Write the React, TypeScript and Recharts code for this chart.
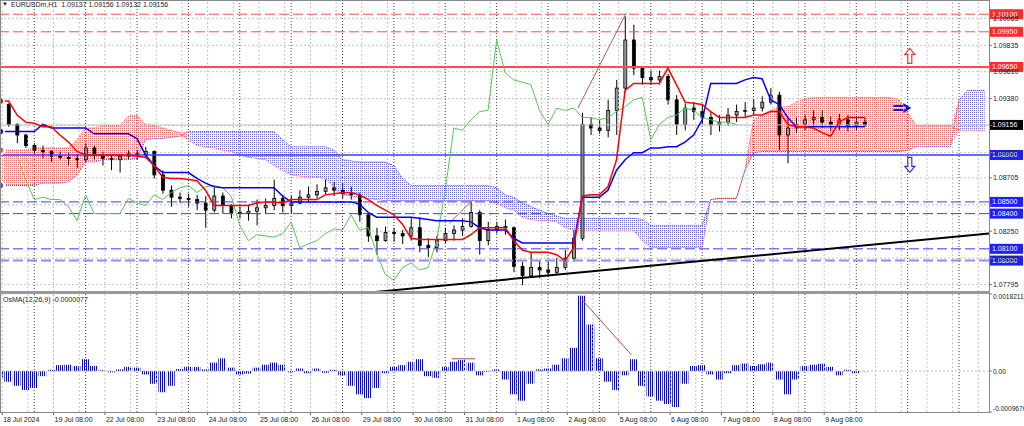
import React from 'react';
import {
  ComposedChart, Bar, Line, Area, XAxis, YAxis, CartesianGrid,
  ReferenceLine, ReferenceDot,
} from 'recharts';

// EURUSDm H1, 18 Jul - 9 Aug 2024, every 4 bars
const STEP = 4;
const firstOpen = 1.0937;

const highs = [
  1.0939, 1.0934, 1.0917, 1.0908, 1.0900, 1.0898, 1.0894, 1.0893, 1.0892, 1.0891,
  1.0900, 1.0898, 1.0893, 1.0890, 1.0891, 1.0894, 1.0894, 1.0897, 1.0894, 1.0877,
  1.0864, 1.0858, 1.0857, 1.0856, 1.0855, 1.0862, 1.0858, 1.0848, 1.0846, 1.0847,
  1.0852, 1.0853, 1.0869, 1.0856, 1.0855, 1.0860, 1.0863, 1.0865, 1.0869, 1.0867,
  1.0866, 1.0863, 1.0858, 1.0841, 1.0828, 1.0829, 1.0828, 1.0826, 1.0836, 1.0837,
  1.0819, 1.0821, 1.0828, 1.0830, 1.0836, 1.0850, 1.0843, 1.0833, 1.0833, 1.0835,
  1.0829, 1.0799, 1.0807, 1.0800, 1.0799, 1.0802, 1.0809, 1.0826, 1.0926, 1.0922,
  1.0920, 1.0937, 1.0954, 1.1008, 1.1001, 1.0966, 1.0962, 1.0962, 1.0959, 1.0941,
  1.0934, 1.0935, 1.0933, 1.0927, 1.0924, 1.0930, 1.0933, 1.0935, 1.0937, 1.0940,
  1.0947, 1.0944, 1.0922, 1.0922, 1.0924, 1.0928, 1.0928, 1.0923, 1.0925, 1.0924,
  1.0923, 1.0922,
];
const lows = [
  1.0928, 1.0914, 1.0900, 1.0896, 1.0891, 1.0887, 1.0884, 1.0886, 1.0881, 1.0879,
  1.0884, 1.0886, 1.0881, 1.0877, 1.0875, 1.0886, 1.0886, 1.0887, 1.0870, 1.0857,
  1.0846, 1.0849, 1.0846, 1.0843, 1.0828, 1.0841, 1.0840, 1.0836, 1.0836, 1.0834,
  1.0830, 1.0840, 1.0843, 1.0841, 1.0840, 1.0848, 1.0850, 1.0853, 1.0856, 1.0855,
  1.0853, 1.0852, 1.0833, 1.0816, 1.0805, 1.0816, 1.0816, 1.0814, 1.0817, 1.0807,
  1.0803, 1.0807, 1.0815, 1.0817, 1.0821, 1.0828, 1.0805, 1.0813, 1.0823, 1.0822,
  1.0790, 1.0779, 1.0786, 1.0785, 1.0786, 1.0788, 1.0792, 1.0799, 1.0817, 1.0907,
  1.0908, 1.0905, 1.0907, 1.0944, 1.0958, 1.0950, 1.0950, 1.0950, 1.0933, 1.0907,
  1.0911, 1.0920, 1.0916, 1.0907, 1.0910, 1.0915, 1.0918, 1.0922, 1.0924, 1.0927,
  1.0933, 1.0894, 1.0883, 1.0909, 1.0911, 1.0915, 1.0913, 1.0910, 1.0911, 1.0910,
  1.0911, 1.0914,
];
const closes = [
  1.0933, 1.0916, 1.0907, 1.0898, 1.0894, 1.0893, 1.0889, 1.0888, 1.0887, 1.0886,
  1.0896, 1.0890, 1.0887, 1.0886, 1.0889, 1.0891, 1.0890, 1.0893, 1.0873, 1.0860,
  1.0854, 1.0853, 1.0852, 1.0849, 1.0843, 1.0855, 1.0847, 1.0841, 1.0840, 1.0842,
  1.0845, 1.0847, 1.0853, 1.0847, 1.0849, 1.0854, 1.0856, 1.0859, 1.0862, 1.0860,
  1.0857, 1.0856, 1.0839, 1.0821, 1.0817, 1.0824, 1.0823, 1.0821, 1.0828, 1.0813,
  1.0811, 1.0817, 1.0823, 1.0826, 1.0829, 1.0841, 1.0817, 1.0826, 1.0829, 1.0828,
  1.0795, 1.0787, 1.0794, 1.0792, 1.0790, 1.0794, 1.0802, 1.0819, 1.0916, 1.0913,
  1.0911, 1.0928, 1.0947, 1.0988, 1.0964, 1.0956, 1.0954, 1.0957, 1.0937, 1.0916,
  1.0930, 1.0927, 1.0922, 1.0916, 1.0918, 1.0924, 1.0927, 1.0928, 1.0930, 1.0935,
  1.0941, 1.0907, 1.0913, 1.0916, 1.0920, 1.0922, 1.0918, 1.0916, 1.0920, 1.0915,
  1.0918, 1.09156,
];

// Ichimoku
const tenkan = [
  1.0936, 1.0936, 1.0924, 1.0918, 1.0917, 1.0914, 1.0914, 1.0907, 1.0901, 1.0893,
  1.0890, 1.0890, 1.0890, 1.0890, 1.0890, 1.0890, 1.0889, 1.0888, 1.0881, 1.0871,
  1.0870, 1.0870, 1.0869, 1.0868, 1.0860, 1.0847, 1.0847, 1.0847, 1.0847, 1.0847,
  1.0849, 1.0850, 1.0850, 1.0849, 1.0852, 1.0852, 1.0852, 1.0852, 1.0856, 1.0857,
  1.0858, 1.0858, 1.0856, 1.0852, 1.0847, 1.0843, 1.0839, 1.0831, 1.0819, 1.0818,
  1.0818, 1.0818, 1.0818, 1.0818, 1.0818, 1.0822, 1.0828, 1.0828, 1.0828, 1.0828,
  1.0817, 1.0809, 1.0807, 1.0807, 1.0807, 1.0805, 1.0800, 1.0811, 1.0855, 1.0856,
  1.0856, 1.0863, 1.0886, 1.0945, 1.0951, 1.0951, 1.0951, 1.0951, 1.0964, 1.0950,
  1.0935, 1.0934, 1.0933, 1.0927, 1.0922, 1.0922, 1.0922, 1.0922, 1.0924, 1.0924,
  1.0927, 1.0927, 1.0916, 1.0914, 1.0914, 1.0913, 1.0909, 1.0906, 1.0918, 1.0922,
  1.0922, 1.0922,
];
const kijun = [
  1.0910, 1.0910, 1.0910, 1.0910, 1.0910, 1.0916, 1.0913, 1.0913, 1.0913, 1.0913,
  1.0913, 1.0908, 1.0908, 1.0908, 1.0908, 1.0908, 1.0904, 1.0890, 1.0881, 1.0875,
  1.0875, 1.0875, 1.0875, 1.0870, 1.0866, 1.0863, 1.0862, 1.0862, 1.0862, 1.0862,
  1.0862, 1.0862, 1.0862, 1.0855, 1.0850, 1.0850, 1.0850, 1.0850, 1.0850, 1.0850,
  1.0850, 1.0850, 1.0848, 1.0841, 1.0837, 1.0837, 1.0837, 1.0837, 1.0837, 1.0836,
  1.0835, 1.0834, 1.0834, 1.0834, 1.0834, 1.0833, 1.0828, 1.0826, 1.0826, 1.0826,
  1.0819, 1.0815, 1.0815, 1.0815, 1.0815, 1.0815, 1.0815, 1.0815, 1.0854, 1.0854,
  1.0854, 1.0860, 1.0877, 1.0886, 1.0892, 1.0892, 1.0896, 1.0896, 1.0897, 1.0897,
  1.0901, 1.0907, 1.0920, 1.0951, 1.0951, 1.0951, 1.0951, 1.0954, 1.0956, 1.0955,
  1.0937, 1.0933, 1.0922, 1.0914, 1.0914, 1.0914, 1.0914, 1.0914, 1.0914, 1.0914,
  1.0914, 1.0914,
];
const chikou = [
  null, null, 1.0890, 1.0869, 1.0852, 1.0854, 1.0852, 1.0852, 1.0846, 1.0834,
  1.0856, 1.0840, 1.0840, 1.0840, 1.0840, 1.0853, 1.0849, 1.0847, 1.0856, 1.0852,
  1.0858, 1.0862, 1.0864, 1.0858, 1.0863, 1.0864, 1.0862, 1.0855, 1.0830, 1.0817,
  1.0822, 1.0821, 1.0820, 1.0823, 1.0833, 1.0811, 1.0814, 1.0817, 1.0823, 1.0827,
  1.0826, 1.0839, 1.0826, 1.0828, 1.0806, 1.0788, 1.0783, 1.0794, 1.0798, 1.0792,
  1.0794, 1.0817, 1.0860, 1.0913, 1.0911, 1.0920, 1.0927, 1.0928, 1.0988, 1.0960,
  1.0954, 1.0952, 1.0950, 1.0928, 1.0916, 1.0930, 1.0928, 1.0930, 1.0922, 1.0922,
  1.0920, 1.0922, 1.0927, 1.0931, 1.0937, 1.0939, 1.0903, 1.0916, 1.0922, 1.0924,
  1.0930, 1.0928, 1.0922, 1.0920, 1.0918, 1.0918, 1.0916,
];
const spanA = [
  1.0894, 1.0894, 1.0894, 1.0894, 1.0896, 1.0896, 1.0896, 1.0896, 1.0896, 1.0903,
  1.0913, 1.0913, 1.0915, 1.0915, 1.0915, 1.0923, 1.0924, 1.0916, 1.0915, 1.0913,
  1.0911, 1.0909, 1.0903, 1.0898, 1.0897, 1.0896, 1.0894, 1.0893, 1.0890, 1.0888,
  1.0887, 1.0886, 1.0881, 1.0877, 1.0873, 1.0872, 1.0871, 1.0871, 1.0870, 1.0862,
  1.0856, 1.0855, 1.0854, 1.0853, 1.0852, 1.0851, 1.0851, 1.0851, 1.0851, 1.0851,
  1.0851, 1.0851, 1.0851, 1.0851, 1.0851, 1.0851, 1.0851, 1.0851, 1.0849, 1.0845,
  1.0843, 1.0837, 1.0835, 1.0834, 1.0834, 1.0833, 1.0828, 1.0826, 1.0826, 1.0826,
  1.0826, 1.0826, 1.0826, 1.0826, 1.0826, 1.0817, 1.0811, 1.0811, 1.0811, 1.0811,
  1.0811, 1.0811, 1.0811, 1.0852, 1.0853, 1.0853, 1.0853, 1.0877, 1.0920, 1.0924,
  1.0928, 1.0931, 1.0931, 1.0935, 1.0938, 1.0939, 1.0939, 1.0939, 1.0939, 1.0939,
  1.0939, 1.0939, 1.0939, 1.0939, 1.0939, 1.0937, 1.0926, 1.0915, 1.0915, 1.0915,
  1.0915, 1.0915, 1.0911, 1.0911, 1.0911, 1.0911,
];
const spanB = [
  1.0864, 1.0864, 1.0864, 1.0864, 1.0864, 1.0866, 1.0866, 1.0866, 1.0867, 1.0873,
  1.0884, 1.0884, 1.0886, 1.0886, 1.0886, 1.0886, 1.0887, 1.0903, 1.0904, 1.0904,
  1.0905, 1.0906, 1.0910, 1.0910, 1.0910, 1.0910, 1.0910, 1.0910, 1.0910, 1.0910,
  1.0910, 1.0910, 1.0910, 1.0903, 1.0897, 1.0897, 1.0897, 1.0897, 1.0897, 1.0894,
  1.0886, 1.0885, 1.0884, 1.0884, 1.0884, 1.0884, 1.0881, 1.0870, 1.0864, 1.0864,
  1.0864, 1.0864, 1.0864, 1.0864, 1.0864, 1.0864, 1.0864, 1.0864, 1.0862, 1.0856,
  1.0854, 1.0849, 1.0846, 1.0843, 1.0840, 1.0838, 1.0836, 1.0836, 1.0836, 1.0836,
  1.0836, 1.0836, 1.0836, 1.0836, 1.0836, 1.0835, 1.0830, 1.0830, 1.0830, 1.0830,
  1.0830, 1.0830, 1.0830, 1.0852, 1.0853, 1.0853, 1.0853, 1.0877, 1.0892, 1.0893,
  1.0893, 1.0893, 1.0893, 1.0893, 1.0893, 1.0893, 1.0893, 1.0893, 1.0893, 1.0893,
  1.0893, 1.0893, 1.0893, 1.0893, 1.0893, 1.0893, 1.0894, 1.0897, 1.0897, 1.0897,
  1.0897, 1.0897, 1.0937, 1.0945, 1.0945, 1.0945,
];

// OsMA(12,26,9)
const osma = [
  -0.00015, -0.00025, -0.00035, -0.00045, -0.0004, -0.00012, 0.00003, 0.00014, 0.00015, 0.00012,
  0.00028, 0.00012, 0.00002, -0.00003, 0.00004, 0.0001, 0.00008, -0.00008, -0.0003, -0.0005,
  -0.00035, 0.00005, 0.0001, 0.0001, 0.00004, 0.0002, 0.0003, 0.00008, -0.00008, -0.00006,
  0.00008, 0.00015, 0.0002, 0.00015, -0.00003, 0.00006, -0.00005, 0.00006, -0.00004, 0.00003,
  -0.0001, -0.00035, -0.00055, -0.00064, -0.0004, -0.00005, 0.0001, 0.00014, 0.00022, 0.00028,
  -0.00012, -0.00016, 0.0001, 0.00022, 0.00026, 0.0002, -0.0001, -0.00002, 0.00004, -0.0002,
  -0.00055, -0.0007, -0.0003, 0.00004, 0.00006, 0.00015, 0.0003, 0.00055, 0.00178, 0.0011,
  0.0003, -0.00025, -0.00045, -0.0001, 0.00028, -0.00035, -0.0006, -0.0007, -0.00078, -0.00085,
  -0.0003, 0.00012, 0.00014, -0.00008, -0.0002, -0.00005, 0.00014, 0.00018, 0.00012, 0.00016,
  0.0002, -0.0002, -0.00055, -0.0002, 0.00012, 0.00015, 0.00017, 0.0001, -0.0001, 0.00003,
  -0.00005, -0.0000077,
];

const dayLabels = [
  '18 Jul 2024', '19 Jul 08:00', '22 Jul 08:00', '23 Jul 08:00', '24 Jul 08:00',
  '25 Jul 08:00', '26 Jul 08:00', '29 Jul 08:00', '30 Jul 08:00', '31 Jul 08:00',
  '1 Aug 08:00', '2 Aug 08:00', '5 Aug 08:00', '6 Aug 08:00', '7 Aug 08:00',
  '8 Aug 08:00', '9 Aug 08:00',
];
const priceTicks = [
  1.10065, 1.09835, 1.0961, 1.0938, 1.0915, 1.0892, 1.08705, 1.08475, 1.0825, 1.0802, 1.07795,
];
// ticks whose label sits fully under a price tag
const coveredTicks = [1.0915, 1.08475];
const resistanceLevels = [1.101, 1.0995, 1.0965];
const supportLevels = [1.089, 1.085, 1.084, 1.081, 1.08];
const lastPrice = 1.09156;
const osmaLast = -0.0000077;

const BARS = 462;
const PRICE_MIN = 1.07732;
const PRICE_MAX = 1.10221;
const OSMA_MIN = -0.0009676;
const OSMA_MAX = 0.0018211;
const OSMA_PLOT_BOTTOM = 120; // inside the lower chart's svg
const FONT = "'Liberation Sans', Arial, sans-serif";

const dayTicks = dayLabels.map((_, i) => 1 + 24 * i);
const gridBars: number[] = [];
for (let b = 1; b < BARS; b += 12) gridBars.push(b);
const sepBars: number[] = [];
for (let b = 16; b < BARS; b += 24) sepBars.push(b);

const rows = spanA.map((a, k) => {
  const b = spanB[k];
  const up = a >= b;
  const prevUp = k > 0 ? spanA[k - 1] >= spanB[k - 1] : up;
  const range = [Math.min(a, b), Math.max(a, b)];
  const has = closes[k] !== undefined;
  return {
    idx: k * STEP,
    candle: has ? [lows[k], highs[k]] : null,
    open: k === 0 ? firstOpen : closes[k - 1],
    close: closes[k],
    tenkan: tenkan[k] ?? null,
    kijun: kijun[k] ?? null,
    chikou: chikou[k] ?? null,
    spanA: a,
    spanB: b,
    redCloud: up || prevUp ? range : null,
    blueCloud: !up || !prevUp ? range : null,
  };
});
const osmaRows = osma.map((v, k) => ({ idx: k * STEP, osma: v }));

const Candle = (props: any) => {
  const { x, y, width, height, payload } = props;
  if (!payload || !payload.candle) return null;
  const top = Math.min(y, y + height);
  const h = Math.abs(height);
  const [lo, hi] = payload.candle;
  const span = hi - lo || 1e-9;
  const toY = (v: number) => top + ((hi - v) / span) * h;
  const yo = toY(payload.open);
  const yc = toY(payload.close);
  const cx = x + width / 2;
  const bull = payload.close >= payload.open;
  return (
    <g>
      <line x1={cx} x2={cx} y1={top} y2={top + h} stroke="#000" strokeWidth={1} />
      <rect x={x} y={Math.min(yo, yc)} width={width} height={Math.max(1, Math.abs(yo - yc))}
        fill={bull ? '#9a9a9a' : '#000'} stroke="#000" strokeWidth={0.8} />
    </g>
  );
};

const PriceTick = ({ x, y, payload }: any) =>
  coveredTicks.includes(payload.value) ? null : (
    <text x={x} y={y} dy={2.5} fontSize={7} fontFamily={FONT} fill="#222" textAnchor="start">
      {payload.value.toFixed(5)}
    </text>
  );

const OsmaTick = ({ x, y, payload }: any) => {
  const v = payload.value;
  const dy = v === OSMA_MAX ? 5 : v === OSMA_MIN ? -1 : 2.5;
  return (
    <text x={x} y={y} dy={dy} fontSize={6.6} fontFamily={FONT} fill="#222" textAnchor="start">
      {v === 0 ? '0.00' : v.toFixed(7)}
    </text>
  );
};

const DayTick = ({ x, payload }: any) => {
  const i = dayTicks.indexOf(payload.value);
  return (
    <g>
      <line x1={x} x2={x} y1={OSMA_PLOT_BOTTOM} y2={OSMA_PLOT_BOTTOM + 3} stroke="#666" />
      <text x={x + 1} y={OSMA_PLOT_BOTTOM + 10} fontSize={7} fontFamily={FONT} fill="#222">{dayLabels[i]}</text>
    </g>
  );
};

const tag = (text: string, fill: string) => (props: any) => {
  const vb = props.viewBox || {};
  const right = (vb.x || 0) + (vb.width || 0);
  return (
    <g>
      <rect x={right + 1} y={vb.y - 5} width={33} height={10} fill={fill} />
      <text x={right + 3} y={vb.y + 2.5} fontSize={7} fontFamily={FONT} fill="#fff">{text}</text>
    </g>
  );
};

const UpArrow = ({ cx, cy }: any) => (
  <path d={`M${cx},${cy - 8} L${cx + 5},${cy - 2} L${cx + 2},${cy - 2} L${cx + 2},${cy + 7} L${cx - 2},${cy + 7} L${cx - 2},${cy - 2} L${cx - 5},${cy - 2} Z`}
    fill="#fff" stroke="#ff3030" strokeWidth={1.2} />
);
const DownArrow = ({ cx, cy }: any) => (
  <path d={`M${cx},${cy + 8} L${cx + 5},${cy + 2} L${cx + 2},${cy + 2} L${cx + 2},${cy - 7} L${cx - 2},${cy - 7} L${cx - 2},${cy + 2} L${cx - 5},${cy + 2} Z`}
    fill="#fff" stroke="#3030ff" strokeWidth={1.2} />
);
const RightArrow = ({ cx, cy }: any) => (
  <g fill="#1010e0">
    <rect x={cx - 9} y={cy - 3} width={10} height={2} />
    <rect x={cx - 9} y={cy + 1} width={10} height={2} />
    <path d={`M${cx + 1},${cy - 5} L${cx + 9},${cy} L${cx + 1},${cy + 5} L${cx + 1},${cy + 2.5} L${cx + 4},${cy} L${cx + 1},${cy - 2.5} Z`} />
  </g>
);

const vGrid = (chartKey: string) => [
  ...gridBars.map((b) => (
    <ReferenceLine key={`${chartKey}g${b}`} x={b} stroke="#c4c4c4" strokeDasharray="2 2" />
  )),
  ...sepBars.map((b) => (
    <ReferenceLine key={`${chartKey}s${b}`} x={b} stroke="#444" strokeDasharray="1 2" />
  )),
];

export default function App() {
  return (
    <div style={{ position: 'absolute', left: 0, top: 0, width: 1024, height: 426, background: '#fff', overflow: 'hidden', fontFamily: FONT }}>
      <svg width={0} height={0} style={{ position: 'absolute' }}>
        <defs>
          <pattern id="cloudRed" width={2} height={2} patternUnits="userSpaceOnUse">
            <rect width={1} height={1} fill="#ff6a6a" />
          </pattern>
          <pattern id="cloudBlue" width={2} height={2} patternUnits="userSpaceOnUse">
            <rect width={1} height={1} fill="#6a6aff" />
          </pattern>
          <pattern id="osmaStripes" width={2} height={2} patternUnits="userSpaceOnUse">
            <rect width={1} height={2} fill="#0000ff" />
          </pattern>
        </defs>
      </svg>

      <div style={{ position: 'absolute', left: 0, top: 0 }}>
        <ComposedChart width={1024} height={292} data={rows} margin={{ top: 0, right: 0, bottom: 0, left: 0 }}>
          <XAxis dataKey="idx" type="number" domain={[0, BARS]} hide allowDataOverflow />
          <YAxis orientation="right" width={35} domain={[PRICE_MIN, PRICE_MAX]} ticks={priceTicks}
            interval={0} allowDataOverflow tick={<PriceTick />} tickSize={3} tickMargin={1}
            axisLine={false} tickLine={{ stroke: '#777' }} />
          <CartesianGrid horizontal vertical={false} stroke="#c4c4c4" strokeDasharray="2 2" />
          {vGrid('m')}
          <Area dataKey="redCloud" stroke="none" fill="url(#cloudRed)" fillOpacity={1} isAnimationActive={false} />
          <Area dataKey="blueCloud" stroke="none" fill="url(#cloudBlue)" fillOpacity={1} isAnimationActive={false} />
          <Line dataKey="spanA" stroke="#ff4040" strokeWidth={1} strokeDasharray="1 1" dot={false} isAnimationActive={false} />
          <Line dataKey="spanB" stroke="#4040ff" strokeWidth={1} strokeDasharray="1 1" dot={false} isAnimationActive={false} />
          <ReferenceLine y={lastPrice} stroke="#c0c0c0" label={tag(lastPrice.toFixed(5), '#000')} />
          {resistanceLevels.map((v, i) => (
            <ReferenceLine key={`r${v}`} y={v} stroke="#ff4a4a"
              strokeWidth={i === 2 ? 2 : 1} strokeDasharray={i === 2 ? undefined : '10 4'}
              label={tag(v.toFixed(5), '#ff2a2a')} />
          ))}
          {supportLevels.map((v, i) => (
            <ReferenceLine key={`s${v}`} y={v} stroke={i === 4 ? '#8c8cff' : '#3a3aff'}
              strokeWidth={i === 4 ? 2 : i === 0 ? 1.5 : 1} strokeDasharray={i === 0 ? undefined : '10 4'}
              label={tag(v.toFixed(5), '#1e1eff')} />
          ))}
          <ReferenceLine segment={[{ x: 174, y: 1.0773 }, { x: 462, y: 1.0823 }]} stroke="#000" strokeWidth={2} ifOverflow="visible" />
          <ReferenceLine segment={[{ x: 210, y: 1.0832 }, { x: 221, y: 1.0852 }]} stroke="#b05a5a" strokeWidth={1} />
          <ReferenceLine segment={[{ x: 270, y: 1.093 }, { x: 292.5, y: 1.1011 }]} stroke="#b05a5a" strokeWidth={1} />
          <Bar dataKey="candle" barSize={3} shape={<Candle />} isAnimationActive={false} />
          <Line dataKey="chikou" stroke="#55c855" strokeWidth={1} dot={false} isAnimationActive={false} />
          <Line dataKey="kijun" stroke="#0000ff" strokeWidth={1.5} dot={false} isAnimationActive={false} />
          <Line dataKey="tenkan" stroke="#ff0000" strokeWidth={1.5} dot={false} isAnimationActive={false} />
          <ReferenceDot x={425} y={1.0974} r={0} shape={(p: any) => <UpArrow cx={p.cx} cy={p.cy} />} />
          <ReferenceDot x={425} y={1.0882} r={0} shape={(p: any) => <DownArrow cx={p.cx} cy={p.cy} />} />
          <ReferenceDot x={421.5} y={1.093} r={0} shape={(p: any) => <RightArrow cx={p.cx} cy={p.cy} />} />
        </ComposedChart>
      </div>

      <div style={{ position: 'absolute', left: 0, top: 292 }}>
        <ComposedChart width={1024} height={134} data={osmaRows} margin={{ top: 2, right: 0, bottom: 0, left: 0 }}>
          <XAxis dataKey="idx" type="number" domain={[0, BARS]} ticks={dayTicks} interval={0}
            height={14} tick={<DayTick />} tickLine={false} axisLine={false} allowDataOverflow />
          <YAxis orientation="right" width={35} domain={[OSMA_MIN, OSMA_MAX]}
            ticks={[OSMA_MAX, 0, OSMA_MIN]} interval={0} allowDataOverflow tick={<OsmaTick />}
            tickSize={3} tickMargin={1} axisLine={false} tickLine={{ stroke: '#777' }} />
          {vGrid('o')}
          <ReferenceLine y={0} stroke="#c4c4c4" strokeDasharray="2 2" />
          <Bar dataKey="osma" barSize={9} fill="url(#osmaStripes)" isAnimationActive={false} />
          <ReferenceLine segment={[{ x: 272, y: 0.00168 }, { x: 295, y: 0.00038 }]} stroke="#c04848" strokeWidth={1} />
          <ReferenceLine segment={[{ x: 211, y: 0.00029 }, { x: 222, y: 0.00029 }]} stroke="#c04848" strokeWidth={1} />
        </ComposedChart>
      </div>

      <svg width={1024} height={426} style={{ position: 'absolute', left: 0, top: 0, pointerEvents: 'none' }}>
        <line x1={0} x2={989} y1={0.5} y2={0.5} stroke="#888" />
        <line x1={0.5} x2={0.5} y1={0} y2={412} stroke="#888" />
        <line x1={989.5} x2={989.5} y1={0} y2={413} stroke="#888" />
        <line x1={0} x2={990} y1={292.5} y2={292.5} stroke="#999" strokeWidth={3} />
        <line x1={0} x2={990} y1={412.5} y2={412.5} stroke="#888" />
      </svg>

      <div style={{ position: 'absolute', left: 2, top: 1, fontSize: 6, color: '#222' }}>▼</div>
      <div style={{ position: 'absolute', left: 11, top: 1, fontSize: 7, color: '#222', whiteSpace: 'pre' }}>
        {'EURUSDm,H1  1.09137 1.09156 1.09132 1.09156'}
      </div>
      <div style={{ position: 'absolute', left: 3, top: 296, fontSize: 7, color: '#222', whiteSpace: 'pre' }}>
        {`OsMA(12,26,9) ${osmaLast.toFixed(7)}`}
      </div>
    </div>
  );
}
